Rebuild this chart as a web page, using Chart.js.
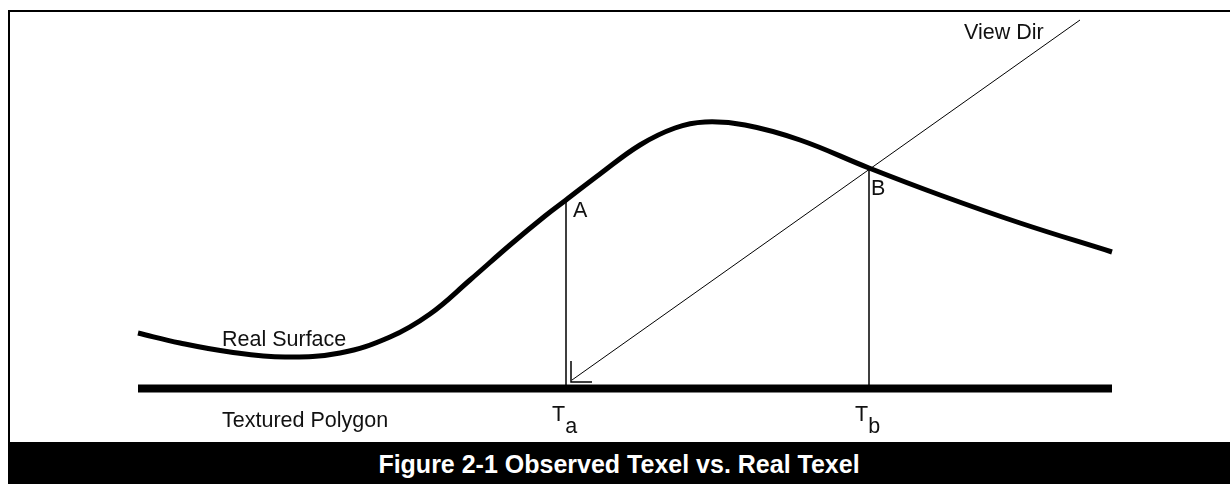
<!DOCTYPE html>
<html>
<head>
<meta charset="utf-8">
<script src="https://cdn.jsdelivr.net/npm/chart.js@4.4.1/dist/chart.umd.min.js"></script>
<style>
  html, body { margin: 0; padding: 0; background: #fff; width: 1230px; height: 484px; overflow: hidden; }
  #wrap { position: absolute; left: 0; top: 0; width: 1230px; height: 484px; }
  #topRule { position: absolute; left: 8px; top: 10px; width: 1222px; height: 2px; background: #000; }
  #leftRule { position: absolute; left: 8px; top: 10px; width: 2px; height: 432px; background: #000; }
  #caption { position: absolute; left: 8px; top: 442px; width: 1222px; height: 42px; background: #000; color: #fff;
    font: bold 25px "Liberation Sans", Arial, sans-serif; text-align: center; line-height: 44px; }
</style>
</head>
<body>
<script>
// ---- data (diagram coordinates: x across, y down from top of figure) ----
const surfaceX = [138, 180, 230, 285, 340, 390, 430, 470, 510, 545, 566, 600, 640, 675, 705, 745, 800, 869, 940, 1020, 1112];
const surfaceY = [333, 343, 352, 357, 353, 337, 314, 280, 245, 216, 200, 174, 145, 128, 122, 125, 140, 168, 195, 223, 252];
const polygonX = [138, 1112];
const polygonY = [388.5, 388.5];
const texelAX = [566, 566];
const texelAY = [200, 385];
const texelBX = [869, 869];
const texelBY = [168, 385];
const viewDirX = [572, 1080];
const viewDirY = [380, 20];
const arrowX = [571, 571, 592];
const arrowY = [361, 382, 382];

const labelTexts = ["View Dir", "A", "B", "Real Surface", "Textured Polygon"];
const labelX = [964, 573, 871, 222, 222];
const labelY = [39, 217, 195, 346, 427];

const subMain = ["T", "T"];
const subText = ["a", "b"];
const subX = [552, 855];
const subY = [421, 421];

const captionText = "Figure 2-1 Observed Texel vs. Real Texel";
</script>
<div id="wrap"><canvas id="c" width="1230" height="484"></canvas></div>
<div id="topRule"></div>
<div id="leftRule"></div>
<div id="caption"></div>
<script>
document.getElementById('caption').textContent = captionText;
const pts = (xs, ys) => xs.map((x, i) => ({ x: x, y: ys[i] }));
const base = { showLine: true, pointRadius: 0, borderColor: '#000', backgroundColor: '#000', fill: false, tension: 0 };

const labelPlugin = {
  id: 'labels',
  afterDatasetsDraw(chart) {
    const ctx = chart.ctx, xs = chart.scales.x, ys = chart.scales.y;
    ctx.save();
    ctx.fillStyle = '#111';
    ctx.textBaseline = 'alphabetic';
    ctx.textAlign = 'left';
    ctx.font = '21.5px "Liberation Sans", Arial, sans-serif';
    labelTexts.forEach((t, i) => {
      ctx.fillText(t, xs.getPixelForValue(labelX[i]), ys.getPixelForValue(labelY[i]));
    });
    subMain.forEach((t, i) => {
      const px = xs.getPixelForValue(subX[i]), py = ys.getPixelForValue(subY[i]);
      ctx.fillText(t, px, py);
      const w = ctx.measureText(t).width;
      ctx.fillText(subText[i], px + w, py + 12);
    });
    ctx.restore();
  }
};

new Chart(document.getElementById('c'), {
  type: 'scatter',
  data: {
    datasets: [
      Object.assign({}, base, { label: 'Real Surface', data: pts(surfaceX, surfaceY), borderWidth: 5, tension: 0.4 }),
      Object.assign({}, base, { label: 'Textured Polygon', data: pts(polygonX, polygonY), borderWidth: 8 }),
      Object.assign({}, base, { label: 'Ta', data: pts(texelAX, texelAY), borderWidth: 1.5 }),
      Object.assign({}, base, { label: 'Tb', data: pts(texelBX, texelBY), borderWidth: 1.5 }),
      Object.assign({}, base, { label: 'View Dir', data: pts(viewDirX, viewDirY), borderWidth: 1 }),
      Object.assign({}, base, { label: 'Arrow', data: pts(arrowX, arrowY), borderWidth: 1.5 })
    ]
  },
  options: {
    responsive: false,
    animation: false,
    layout: { padding: 0 },
    plugins: { legend: { display: false }, tooltip: { enabled: false }, title: { display: false } },
    scales: {
      x: { type: 'linear', min: 0, max: 1230, display: false },
      y: { type: 'linear', min: 0, max: 484, reverse: true, display: false }
    }
  },
  plugins: [labelPlugin]
});
</script>
</body>
</html>
